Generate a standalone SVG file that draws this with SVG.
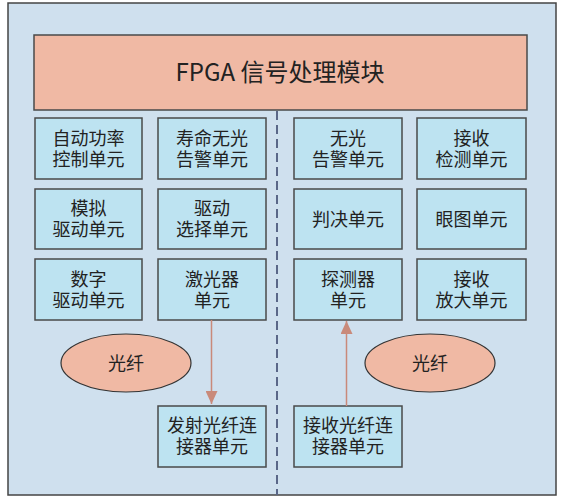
<svg xmlns="http://www.w3.org/2000/svg" width="564" height="504" viewBox="0 0 564 504">
<defs>
<style>
.box{fill:#bde3f1;stroke:#4a4a4a;stroke-width:1.5}
.ell{fill:#f0b9a4;stroke:#333;stroke-width:1.2}
.t{font-family:"Liberation Sans","Noto Sans CJK SC",sans-serif;font-size:18px;fill:#222;text-anchor:middle}
.h{font-family:"Noto Sans CJK SC","Noto Sans",sans-serif;font-size:24px;fill:#222;text-anchor:middle}
.arr{stroke:#c98a7a;stroke-width:1.5;fill:none}
</style>
<marker id="ah" markerWidth="14" markerHeight="12" refX="13" refY="6" orient="auto" markerUnits="userSpaceOnUse">
<path d="M0,0 L13,6 L0,12 Z" fill="#c98a7a"/>
</marker>
</defs>
<rect x="0" y="0" width="564" height="504" fill="#ffffff"/>
<rect x="8" y="3" width="548" height="492" fill="#cfe0ee" stroke="#444" stroke-width="1.5"/>
<g id="header">
<rect x="34" y="35" width="493" height="75" fill="#f0b9a4" stroke="#4a4a4a" stroke-width="1.5"/>
<text class="h" x="280" y="81">FPGA 信号处理模块</text>
</g>
<g id="divider">
<line x1="277" y1="111" x2="277" y2="495" stroke="#5a6788" stroke-width="2" stroke-dasharray="9,5"/>
</g>
<g id="n1"><rect class="box" x="35" y="118" width="107" height="61"/><text class="t" x="88.5" y="145">自动功率<tspan x="88.5" dy="21">控制单元</tspan></text></g>
<g id="n2"><rect class="box" x="158" y="118" width="108" height="61"/><text class="t" x="212" y="145">寿命无光<tspan x="212" dy="21">告警单元</tspan></text></g>
<g id="n3"><rect class="box" x="35" y="189" width="107" height="60"/><text class="t" x="88.5" y="215">模拟<tspan x="88.5" dy="21">驱动单元</tspan></text></g>
<g id="n4"><rect class="box" x="158" y="189" width="108" height="60"/><text class="t" x="212" y="215">驱动<tspan x="212" dy="21">选择单元</tspan></text></g>
<g id="n5"><rect class="box" x="35" y="259" width="107" height="61"/><text class="t" x="88.5" y="286">数字<tspan x="88.5" dy="21">驱动单元</tspan></text></g>
<g id="n6"><rect class="box" x="158" y="259" width="108" height="61"/><text class="t" x="212" y="286">激光器<tspan x="212" dy="21">单元</tspan></text></g>
<g id="n7"><rect class="box" x="294" y="118" width="108" height="61"/><text class="t" x="348" y="145">无光<tspan x="348" dy="21">告警单元</tspan></text></g>
<g id="n8"><rect class="box" x="417" y="118" width="109" height="61"/><text class="t" x="471.5" y="145">接收<tspan x="471.5" dy="21">检测单元</tspan></text></g>
<g id="n9"><rect class="box" x="294" y="189" width="108" height="60"/><text class="t" x="348" y="226">判决单元</text></g>
<g id="n10"><rect class="box" x="417" y="189" width="109" height="60"/><text class="t" x="471.5" y="226">眼图单元</text></g>
<g id="n11"><rect class="box" x="294" y="259" width="108" height="61"/><text class="t" x="348" y="286">探测器<tspan x="348" dy="21">单元</tspan></text></g>
<g id="n12"><rect class="box" x="417" y="259" width="109" height="61"/><text class="t" x="471.5" y="286">接收<tspan x="471.5" dy="21">放大单元</tspan></text></g>
<g id="f1"><ellipse class="ell" cx="126" cy="363" rx="65" ry="29"/><text class="t" x="126" y="370">光纤</text></g>
<g id="f2"><ellipse class="ell" cx="430" cy="363" rx="65" ry="29"/><text class="t" x="430" y="370">光纤</text></g>
<g id="n13"><rect class="box" x="158" y="406" width="108" height="61"/><text class="t" x="212" y="432">发射光纤连<tspan x="212" dy="21">接器单元</tspan></text></g>
<g id="n14"><rect class="box" x="294" y="406" width="108" height="61"/><text class="t" x="348" y="432">接收光纤连<tspan x="348" dy="21">接器单元</tspan></text></g>
<g id="connectors">
<line class="arr" x1="211.5" y1="320" x2="211.5" y2="404" marker-end="url(#ah)"/>
<line class="arr" x1="346.5" y1="406" x2="346.5" y2="321" marker-end="url(#ah)"/>
</g>
</svg>
